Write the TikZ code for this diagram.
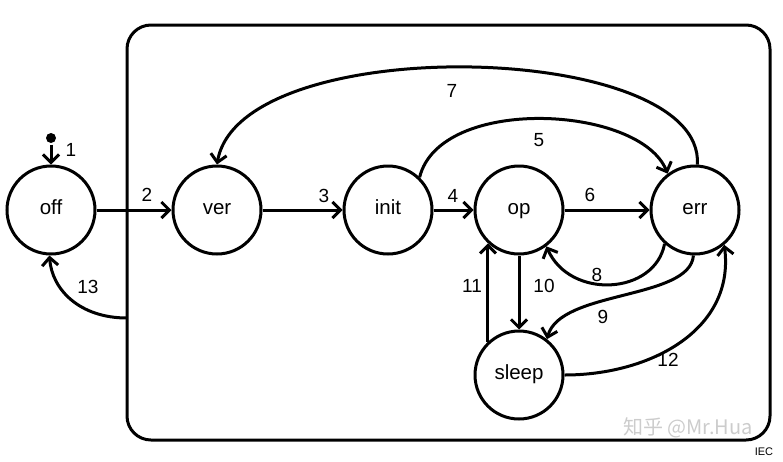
\documentclass[tikz,border=0pt]{standalone}
\usepackage{fontspec}
\setmainfont{Liberation Sans}
\newfontfamily\cjk{Noto Sans CJK SC}
\usetikzlibrary{arrows.meta}

\begin{document}
\begin{tikzpicture}[x=1pt,y=-1pt,line width=3pt,
    >={Straight Barb[length=8pt,width=16pt]},
    state/.style={circle,draw,minimum size=88pt,inner sep=0pt,text height=1.6ex,text depth=0pt,font=\fontsize{20.5}{24}\selectfont},
    num/.style={inner sep=0pt,font=\fontsize{19}{22}\selectfont}]
  \useasboundingbox (0,0) rectangle (783,461);
  \node[draw,rounded corners=24pt,minimum width=643pt,minimum height=415pt] (sys) at (448.5,232.5) {};
  \node[circle,fill,inner sep=0pt,minimum size=10pt] (start) at (51,138) {};
  \node[state] (off) at (51,210) {off};
  \node[state] (ver) at (217,210) {ver};
  \node[state] (init) at (388,210) {init};
  \node[state] (op) at (519,210) {op};
  \node[state] (err) at (695,210) {err};
  \node[state] (sleep) at (519,375) {sleep};
  \coordinate (exit) at (127,318);
  % transitions
  \draw[->] (start) -- (off);
  \draw[->] (off) -- (ver);
  \draw[->] (ver) -- (init);
  \draw[->] (init) -- (op);
  \draw[->] (init.46) .. controls (440,95) and (640,105) .. (err.127);
  \draw[->] (op) -- (err);
  \draw[->] (err.87) .. controls (705,40) and (240,30) .. (ver.north);
  \draw[->] (err.228) .. controls (655,295) and (570,300) .. (op.307);
  \draw[->] (err.268) .. controls (690,300) and (560,290) .. (sleep.52);
  \draw[->] (op) -- (sleep);
  \draw[->] (sleep.133) -- (op.227);
  \draw[->] (sleep.east) .. controls (650,375) and (735,330) .. (err.310);
  \draw[->] (exit) .. controls (80,318) and (52,290) .. (off.268);
  % labels
  \node[num] (l1) at (71,150) {1};
  \node[num] (l2) at (147,195) {2};
  \node[num] (l3) at (324,196) {3};
  \node[num] (l4) at (453,196) {4};
  \node[num] (l5) at (539,140) {5};
  \node[num] (l6) at (590,195) {6};
  \node[num] (l7) at (452,91) {7};
  \node[num] (l8) at (597,275) {8};
  \node[num] (l9) at (603,317) {9};
  \node[num] (l10) at (544,286) {10};
  \node[num] (l11) at (472,286) {11};
  \node[num] (l12) at (668,360) {12};
  \node[num] (l13) at (88,287) {13};
  \node[text=gray!40,font=\cjk\fontsize{20}{24}\selectfont] (mark) at (688,428) {知乎 @Mr.Hua};
  \node[font=\fontsize{11}{13}\selectfont] (iec) at (764,452) {IEC};
\end{tikzpicture}
\end{document}
